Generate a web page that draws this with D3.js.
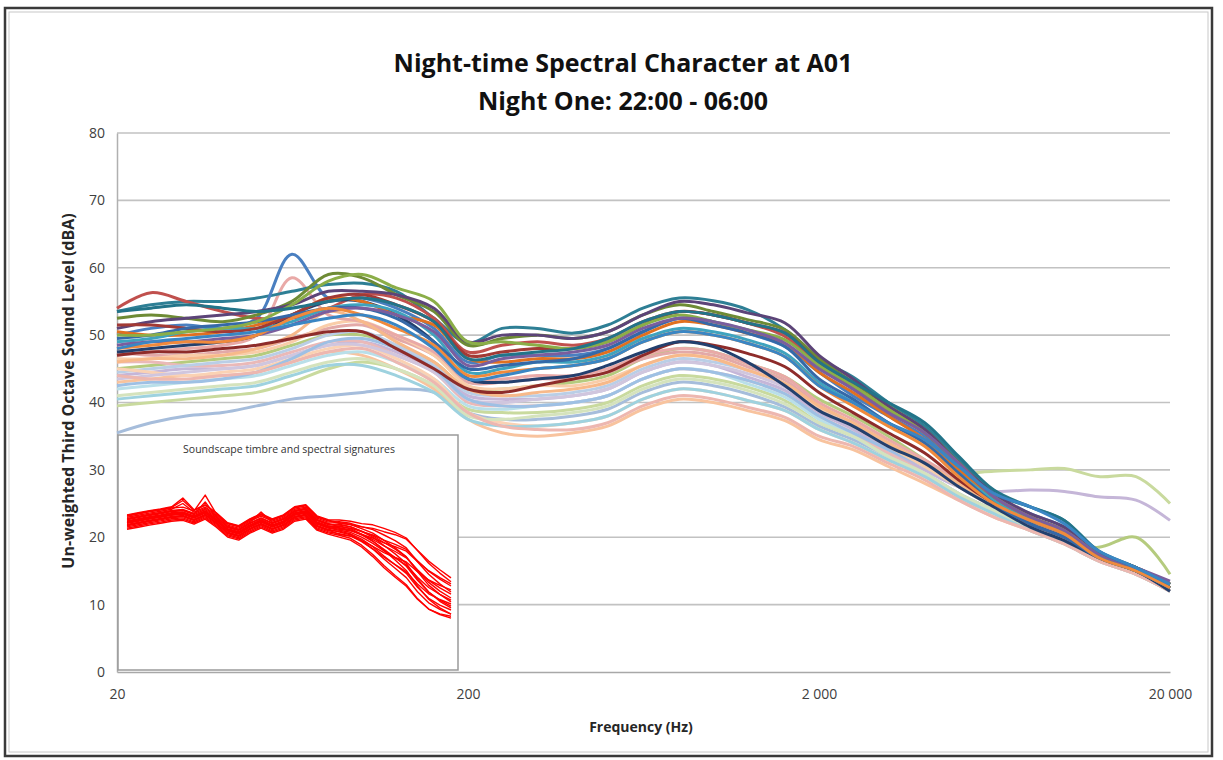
<!DOCTYPE html>
<html>
<head>
<meta charset="utf-8">
<script src="https://cdn.jsdelivr.net/npm/d3@7"></script>
<style>
  html, body { margin: 0; padding: 0; background: #fff; }
  svg { display: block; }
  text { font-family: "Open Sans", "Noto Sans", sans-serif; }
</style>
</head>
<body>
<svg id="chart" width="1223" height="760"></svg>
<script>
// Third-octave band centre frequencies (Hz)
const bands = [20, 25, 31.5, 40, 50, 63, 80, 100, 125, 160, 200, 250, 315, 400, 500, 630,
  800, 1000, 1250, 1600, 2000, 2500, 3150, 4000, 5000, 6300, 8000, 10000, 12500, 16000, 20000];

const xTickValues = [20, 200, 2000, 20000];
const xTickLabels = ["20", "200", "2 000", "20 000"];
const yTickValues = [0, 10, 20, 30, 40, 50, 60, 70, 80];

// Quieter periods of the night (pastel series)
const l01 = [35.5,37,38,38.5,39.5,40.5,41,41.5,42,41.5,38.5,37.5,37.5,38,39,41.5,43,42.5,41.3,39.3,36.5,34.5,32,29.5,26.5,24,21.5,19.5,17,15,12.5];
const l02 = [39.5,40,40.5,41,41.5,43,45,46,45,42.5,39,38.5,38.5,39,40,42.5,44,43.5,42.3,40.3,37,35,32.5,30,29.5,29.8,30,30.2,29,29,25];
const l03 = [44,44.5,45,45,45.5,47,48.5,49,47.5,45,41,40.5,40.5,41,42,44.5,46,45.5,43.8,41.8,38.5,36,33,30,27.5,26.8,27,26.8,26,25.5,22.5];
const l04 = [45,45.5,46,46.5,47,48.5,50,50,48.5,46,42,42,42.5,43,44,46.5,48,47.5,45.8,43.8,40.5,38,35,31.5,28,25,22,19.5,18.5,20,14.5];
const l05 = [46,46,45.5,45.5,46,47.5,49,49,47,44.5,40,39.5,39.5,40,41,43.5,45,44.5,43.3,41.3,38,35.5,32.5,29.5,26.5,24,21.5,19.5,17,15,12.5];
const l06 = [43,43.5,44,44,44.5,46,47.5,47,45,42,37.5,35.5,35,35.5,36.5,39,40.5,40,38.8,37.3,34.5,33,30.5,28,25.5,23,21,19,16.5,14.5,12];
const l07 = [42,42.5,43,43.5,44,45.5,47,47.5,46,43.5,39.5,39,39.5,40,41,43.5,45,44.5,42.8,40.8,37.5,35,32,29.5,26.5,24,21.5,19.5,17,15,12.5];
const l08 = [44.5,45,45.5,46,46.5,48,50,50.5,48.5,45.5,41.5,41,41,41.5,42.5,45,46.5,46,44.8,42.8,39.5,37,34,31,28,25,22.5,20,17.5,15.5,13];
const l09 = [47.5,47,47,47.5,48,49.5,51,51.5,49.5,47,43,43,43.5,43.5,44.5,46.5,47.5,47,45.3,43.3,39.5,37,34,31,28,25,22.5,20,17.5,15.5,13];
const l10 = [45,44.5,44,44.5,45,46.5,48,48.5,46.5,43.5,38.5,37,36.5,37,38,40.5,42,41.5,40.3,38.8,36,34,31.5,29,26,23.5,21,19,16.5,14.5,12];
const l11 = [43.5,44,44.5,45,45.5,47,48.5,48.5,47,44.5,40.5,40,40.5,41,42,44.5,46,45.5,44.3,42.3,39,36.5,33.5,30.5,27.5,24.5,22,20,17.5,15,12.5];
const l12 = [41,41.5,42,42.5,43,44.5,46,46.5,45,42.5,38,37.5,38,38.5,39.5,42,43.5,43,41.8,39.8,37,35,32,29.5,26.5,24,21.5,19.5,17,15,12.5];
const l13 = [42.5,43,43,43.5,44.5,46.5,49,49.5,48,45,40.5,39.5,39.5,40,41,43.5,45,44.5,43.3,41.3,38,35.5,33,30.5,27.5,25,22,20,17,15,12.5];
const l14 = [46.5,46.5,47,47,47.5,49,51.5,52,50,47,42.5,42,42.5,42.5,43.5,45.5,47,46.5,44.8,42.8,39,36.5,33.5,30.5,27.5,24.5,22,20,17,15,12.5];
const l15 = [40.5,41,41.5,42,42.5,44,45.5,45.5,44,41.5,37.5,36.5,36.5,37,38,40.5,42,41.5,40.3,38.8,36,34,31.5,29,26,23.5,21,19,16.5,14.5,12];
const l16 = [44,43.5,43.5,44,44.5,46,47.5,48,46,43,38.5,36.5,36,36,37,39.5,41,40.5,39.3,37.8,35,33.5,31,28.5,25.5,23,21,19,16.5,14.5,12];
const l17 = [47,47.5,48,48.5,50,58.5,53,52,50,47.5,43.5,43.5,44,44,45,47,48,47.5,45.8,43.8,40,37.5,34.5,31.5,28.5,25.5,22.5,20.5,17.5,15.5,13];
const l18 = [46,46.5,46.5,47,48,50,53.5,52,49,46,42,41,41.5,42,43,45.5,47,46.5,44.8,42.8,39.5,37,34,31,28,25,22.5,20.5,17,15,12.5];
const lightColors = ["#A6BDDB","#C9DA9E","#C5B6D8","#B5CB7E","#EAB9B8","#F8C39E","#B9DFE9","#BACEE6",
  "#E3A9A8","#FAD2B4","#D0C6DE","#D5E3BD","#9EC0E4","#F9CDA9","#9ED2DF","#EDB7B0","#E9A9A7","#F7B98A"];

// Louder periods of the night (saturated series)
const d01 = [53.5,54.5,55,55,55.5,56.5,57.5,57.7,56.5,52.5,48.8,51,51,50.3,51.5,54,55.5,55.1,53.8,50.8,46.5,43.8,40,36.5,31.5,26.5,24.5,22.5,17.5,15.5,13];
const d02 = [50,51,51.5,51,52.5,62,55.5,55.5,54,51,46,47,47,47,48,50.5,52.5,52,50.3,48.3,44.5,41,38,35,30.5,26,23.5,21.5,17.5,15,12.5];
const d03 = [54,56.3,55,53.5,52.5,52.5,54,56,55.5,52.5,47.5,48.5,49,48.5,49.5,52,53.5,53,51.8,49.8,45.5,42,38.5,35.5,31,26,23,21,17.5,15.5,13];
const d04 = [52.5,53,52.5,52,53,55,59,58.5,56,53.5,48.5,49.5,50,49.5,50.5,53,54.5,53.5,52.3,50.8,46.5,43,39.5,36,31,26,23,21,17.5,15.5,13];
const d05 = [51,52,52.5,53,53.5,54.5,56.5,56.5,56,54,49,50,50,49.5,50.5,53,55,54.5,53.3,51.8,47,43.5,39.5,36,31,26.5,23.5,21.5,17.5,15.5,13];
const d06 = [47,47.5,47.5,48,48.5,49.5,50.5,50.5,48,45,42,41.5,42.5,43.5,44.5,47,49,48.5,47.3,45.3,41.5,38.5,35.5,32.5,28.5,25,22,20,17,15,12.5];
const d07 = [47.5,48,48.5,49,50,53,55,55,53,49,43.5,43,43.5,44,45.5,47.5,49,48.3,46,42.5,38.8,36.5,33.5,31,27.5,24.5,21.5,19.5,17,15,12];
const d08 = [50.5,50,50,50.5,51.5,53,55.5,55,53,51.5,46.5,46,46.5,46.5,47.5,50,52,51.5,50.3,48.8,44.5,41.5,38,34.5,30,25.5,22.5,20.5,17,15,12.5];
const d09 = [49,49.5,50.5,51,51,52,54,54.5,53.5,50,44.5,45,46,46,47,49.5,51,50.5,49.3,47.3,43,40,37,34,29.5,25.5,22.5,20.5,17,15,12.5];
const d10 = [51.5,51.5,51,50.5,51,53,55.5,56,54.5,52,47,47.5,48,48,49,51.5,53.5,53,51.8,50.3,46,42.5,39,35.5,31,26,23,21,17.5,15.5,13];
const d11 = [49.5,50,51,51.5,52,53,54,54,52.5,49,45,45.5,46,46.5,48,50.5,52.5,51.5,50.3,48.3,43.5,40.5,37,34,29.5,25,22,20,17,15,12.5];
const d12 = [50,50,50.5,51,52,54.5,58,59,57,55,49,49,48.5,48,49,51.5,53,52,50.8,49.3,45.5,42.5,39,35.5,31,26,23,21,17.5,15.5,13];
const d13 = [48.5,49,49,49.5,50,51.5,53.5,54,53,50.5,45.5,46.5,47,47.5,48.5,51,52.5,52,50.8,48.8,45,42,38.5,35.5,31,26,23,21,17.5,15.5,13.5];
const d14 = [53.5,54,54.5,54,53.5,54,55,55.5,54.5,52,46.5,47,47.5,48,49.5,52,53.5,53,51.8,50.3,46,43,40,37,32,27,24.5,22.5,18,15.5,12.5];
const d15 = [48,48.5,49,49,50,52.5,54,53,51,48.5,44,44.5,45,45.5,46.5,49,50.5,50,48.8,46.8,42.5,39.5,36.5,33.5,29,25,22.5,20.5,17,15,12.5];
const d16 = [48,49,49.5,50,50.5,51.5,52.5,53,51.5,48,43.5,44,45,45.5,46.5,49,50.5,50,48.8,46.8,42.5,40,37,34.5,30.5,26.5,24.5,22,18,15.5,13];
const darkColors = ["#2E7F95","#4A7FC0","#C0504D","#6E8B35","#5C4478","#8E2C2A","#23406E","#E07020",
  "#3FA3BE","#A23A35","#3569A8","#8BAE48","#7A5E9E","#237489","#F08A3C","#3A86C4"];

// Inset: spectral signatures across the night
const i01 = [51.7,52.4,53.1,53.7,54.4,57.3,53.4,55.1,52.4,49.1,48.1,50.4,52.1,50.4,51.7,54.4,55.1,51.4,50.1,50,49.6,48.8,48.4,47.2,45.9,44,39.8,35.6,32.3,29.4];
const i02 = [51.3,52,52.7,53.3,54,54.3,53,58.3,52,48.7,47.7,50,51.7,50,51.3,54,54.7,51,49.7,48.9,48.5,47.7,47.2,46.1,45.1,43.6,39.9,36.3,33.4,30.7];
const i03 = [50.9,51.6,52.3,52.9,53.6,55.5,52.6,54.3,51.6,48.3,47.3,49.6,51.3,49.6,50.9,53.6,54.3,50.6,49.3,49.4,48.9,47.8,46.8,45,43.1,40.7,36.1,31.9,28.7,26];
const i04 = [50.5,51.2,51.9,52.5,53.2,53.5,52.2,53.9,51.2,47.9,46.9,49.2,52.7,49.2,50.5,53.2,53.9,50.2,48.9,47.7,47.3,46.1,45,43.3,41.9,40.2,36.4,32.9,30.3,28];
const i05 = [50.1,50.8,51.5,52.1,52.8,53.1,51.8,53.5,50.8,47.5,46.5,48.8,50.5,48.8,50.1,52.8,53.5,49.8,48.5,48.3,47.7,46.3,44.7,42.5,40.3,37.7,33.2,29.2,26.3,24];
const i06 = [49.7,50.4,51.1,51.7,52.4,52.7,51.4,53.1,50.4,47.1,46.1,48.4,50.1,48.4,49.7,52.4,53.1,49.4,48.1,47.2,46.6,45.2,43.5,41.4,39.5,37.4,33.4,29.9,27.4,25.3];
const i07 = [49.3,50,50.7,51.3,52,52.3,51,52.7,50,46.7,45.7,48,49.7,48,49.3,52,52.7,49,47.7,47.4,46.7,45,42.9,40.2,37.5,34.6,29.9,26,23.3,21.3];
const i08 = [48.9,49.6,50.3,50.9,51.6,51.9,50.6,52.3,49.6,46.3,45.3,47.6,49.3,47.6,48.9,51.6,52.3,48.6,47.3,46.6,45.9,44.3,42.2,39.7,37.4,35,30.9,27.5,25.2,23.3];
const i09 = [48.5,49.2,49.9,50.5,51.2,51.5,50.2,51.9,49.2,45.9,44.9,47.2,48.9,47.2,48.5,51.2,51.9,48.2,46.9,46,45.1,43.1,40.3,37,33.9,30.8,26.1,22.4,20.2,18.6];
const i10 = [48.1,48.8,49.5,50.1,50.8,51.1,49.8,51.5,48.8,45.5,44.5,46.8,48.5,46.8,48.1,50.8,51.5,47.8,46.5,46.3,45.4,43.6,41.1,38,35.1,32.2,27.6,23.9,21.6,20];
const i11 = [47.7,48.4,49.1,49.7,50.4,50.7,49.4,51.1,48.4,45.1,44.1,46.4,48.1,46.4,47.7,50.4,51.1,47.4,46.1,45.4,44.7,42.8,40.4,37.6,35.1,32.7,28.7,25.4,23.5,22];
const i12 = [47.3,48,48.7,49.3,50,50.3,49,50.7,48,44.7,43.7,46,47.7,46,47.3,50,50.7,47,45.7,44.9,43.9,41.6,38.5,34.8,31.5,28.4,23.8,20.3,18.5,17.3];
const i13 = [46.9,47.6,48.3,48.9,49.6,49.9,48.6,50.3,47.6,44.3,43.3,45.6,47.3,45.6,46.9,49.6,50.3,46.6,45.3,44.3,43.3,41,37.8,34.1,30.9,27.9,23.6,20.3,18.7,17.9];
const i14 = [50.3,51,51.7,52.3,53,53.3,52,56,51,47.7,46.7,49,50.7,49,50.3,53,53.7,50,48.7,48.6,47.8,46.2,44.3,41.5,38.7,35.5,30.4,26,22.9,20.7];
const i15 = [48.3,49,49.7,50.3,51,51.3,50,51.7,49,45.7,44.7,47,48.7,47,48.3,51,51.7,48,46.7,45.2,44.6,43.1,41.2,39.1,37.5,36,32.8,30,28.2,26.7];
const i16 = [49.5,50.2,50.9,51.5,52.2,52.5,51.2,52.9,50.2,46.9,45.9,48.2,49.9,48.2,49.5,52.2,52.9,49.2,47.9,48,47.1,45.3,43,39.9,36.7,33.2,28,23.6,20.7,18.6];
const i17 = [49.1,49.8,50.5,51.1,51.8,52.1,50.8,52.5,49.8,46.5,45.5,47.8,49.5,47.8,49.1,51.8,52.5,48.8,47.5,46.9,46.4,45.2,44,42.4,41.1,39.6,36.2,33.1,30.8,28.7];
const i18 = [51.5,52.2,52.9,53.5,54.2,56.5,53.2,54.9,52.2,48.9,47.9,50.2,51.9,50.2,51.5,54.2,54.9,51.2,49.9,49.1,48.5,47.1,45.6,43.2,40.7,37.7,32.8,28.3,25.2,22.7];

const lightSeries = [l01,l02,l03,l04,l05,l06,l07,l08,l09,l10,l11,l12,l13,l14,l15,l16,l17,l18];
const darkSeries = [d01,d02,d03,d04,d05,d06,d07,d08,d09,d10,d11,d12,d13,d14,d15,d16];
const insetSeries = [i01,i02,i03,i04,i05,i06,i07,i08,i09,i10,i11,i12,i13,i14,i15,i16,i17,i18];

const svg = d3.select("#chart");

// Chart frame
svg.append("rect").attr("x", 0).attr("y", 0).attr("width", 1223).attr("height", 760).attr("fill", "#fff");
svg.append("rect").attr("x", 5).attr("y", 8).attr("width", 1207).attr("height", 748)
  .attr("fill", "none").attr("stroke", "#3a3a3a").attr("stroke-width", 2.5);
svg.append("rect").attr("x", 9).attr("y", 12).attr("width", 1199).attr("height", 740)
  .attr("fill", "none").attr("stroke", "#c8c8c8").attr("stroke-width", 1);

// Titles
svg.append("text").attr("x", 623).attr("y", 72).attr("text-anchor", "middle")
  .attr("font-size", 25).attr("font-weight", 700).attr("fill", "#111")
  .text("Night-time Spectral Character at A01");
svg.append("text").attr("x", 623).attr("y", 110).attr("text-anchor", "middle")
  .attr("font-size", 25).attr("font-weight", 700).attr("fill", "#111")
  .text("Night One: 22:00 - 06:00");

// Scales
const x = d3.scaleLog().domain([20, 20000]).range([117, 1170]);
const y = d3.scaleLinear().domain([0, 80]).range([672, 133]);

// Gridlines
svg.append("g")
  .selectAll("line").data(yTickValues.filter(v => v > 0)).join("line")
  .attr("x1", x(20)).attr("x2", x(20000))
  .attr("y1", d => y(d)).attr("y2", d => y(d))
  .attr("stroke", "#c2c2c2").attr("stroke-width", 1.7);

// Axes
const yAxis = d3.axisLeft(y).tickValues(yTickValues).tickSize(0).tickPadding(12);
const gy = svg.append("g").attr("transform", `translate(${x(20)},0)`).call(yAxis);
gy.select(".domain").attr("stroke", "#b0b0b0").attr("stroke-width", 1.5);
gy.selectAll("text").attr("font-size", 14).attr("fill", "#404040")
  .attr("font-family", "'Open Sans', sans-serif");

const xAxis = d3.axisBottom(x).tickValues(xTickValues)
  .tickFormat((d, i) => xTickLabels[i]).tickSize(0).tickPadding(17);
const gx = svg.append("g").attr("transform", `translate(0,${y(0)})`).call(xAxis);
gx.select(".domain").attr("stroke", "#a8a8a8").attr("stroke-width", 1.5);
gx.selectAll("text").attr("font-size", 14).attr("fill", "#404040")
  .attr("font-family", "'Open Sans', sans-serif");

// Axis titles
svg.append("text").attr("x", 641).attr("y", 732).attr("text-anchor", "middle")
  .attr("font-size", 14).attr("font-weight", 700).attr("fill", "#262626")
  .text("Frequency (Hz)");
svg.append("text").attr("transform", "translate(74,391) rotate(-90)").attr("text-anchor", "middle")
  .attr("font-size", 16).attr("font-weight", 700).attr("fill", "#262626")
  .text("Un-weighted Third Octave Sound Level (dBA)");

// Spectra
const line = d3.line()
  .x((d, i) => x(bands[i]))
  .y(d => y(d))
  .curve(d3.curveCatmullRom.alpha(0.5));

const plot = svg.append("g");
plot.selectAll("path.light").data(lightSeries).join("path")
  .attr("class", "light")
  .attr("d", line)
  .attr("fill", "none")
  .attr("stroke", (d, i) => lightColors[i])
  .attr("stroke-width", 3)
  .attr("stroke-linejoin", "round");
plot.selectAll("path.dark").data(darkSeries).join("path")
  .attr("class", "dark")
  .attr("d", line)
  .attr("fill", "none")
  .attr("stroke", (d, i) => darkColors[i])
  .attr("stroke-width", 3)
  .attr("stroke-linejoin", "round");

// Inset chart
const inset = svg.append("g");
inset.append("rect").attr("x", 118).attr("y", 435).attr("width", 340).attr("height", 235)
  .attr("fill", "#fff").attr("stroke", "#9a9a9a").attr("stroke-width", 1.5);
inset.append("text").attr("x", 289).attr("y", 453).attr("text-anchor", "middle")
  .attr("font-size", 10.5).attr("fill", "#333")
  .text("Soundscape timbre and spectral signatures");

const ix = d3.scaleLinear().domain([0, 29]).range([127, 451]);
const iy = d3.scaleLinear().domain([10, 70]).range([640, 460]);
const insetLine = d3.line().x((d, i) => ix(i)).y(d => iy(d));
inset.selectAll("path.sig").data(insetSeries).join("path")
  .attr("class", "sig")
  .attr("d", insetLine)
  .attr("fill", "none")
  .attr("stroke", "#ff0000")
  .attr("stroke-width", 1.4)
  .attr("stroke-linejoin", "round");
</script>
</body>
</html>
